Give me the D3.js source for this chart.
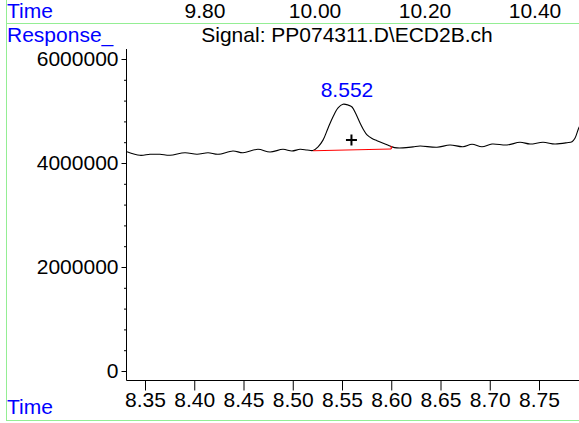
<!DOCTYPE html>
<html>
<head>
<meta charset="utf-8">
<script src="https://cdn.jsdelivr.net/npm/d3@7"></script>
<style>
  body { margin: 0; background: #fff; }
  svg { display: block; font-family: "Liberation Sans", Arial, sans-serif; }
</style>
</head>
<body>
<div id="chart"></div>
<script>
// signal trace
const times = [8.3317, 8.3449, 8.3551, 8.3652, 8.3754, 8.3906, 8.4028, 8.4140, 8.4241, 8.4393,
    8.4495, 8.4647, 8.4769, 8.4901, 8.4992, 8.5074, 8.5145, 8.5206, 8.5257, 8.5307,
    8.5358, 8.5409, 8.5460, 8.5510, 8.5561, 8.5602, 8.5642, 8.5683, 8.5723, 8.5754,
    8.5805, 8.5855, 8.5906, 8.5957, 8.6008, 8.6058, 8.6119, 8.6221, 8.6292, 8.6464,
    8.6596, 8.6728, 8.6820, 8.6921, 8.7023, 8.7175, 8.7307, 8.7409, 8.7541, 8.7662,
    8.7784, 8.7835, 8.7865, 8.7896, 8.7911];
const response = [4.217, 4.148, 4.167, 4.167, 4.148, 4.198, 4.167, 4.198, 4.167, 4.231,
    4.198, 4.263, 4.212, 4.263, 4.231, 4.263, 4.250, 4.240, 4.310, 4.440,
    4.670, 4.890, 5.060, 5.130, 5.115, 5.077, 4.940, 4.770, 4.625, 4.540,
    4.470, 4.430, 4.390, 4.350, 4.310, 4.290, 4.290, 4.310, 4.327, 4.302,
    4.346, 4.313, 4.360, 4.313, 4.365, 4.346, 4.398, 4.365, 4.398, 4.365,
    4.390, 4.410, 4.475, 4.635, 4.700].map(v => v * 1e6);

const peakLabel = "8.552";
const peakTime = 8.552;
const peakTop = 5.13e6;
const baselineTimes = [8.5206, 8.6000];
const baselineValues = [4.236e6, 4.269e6];
const markTime = 8.5596;
const markValue = 4.442e6;

const xTicks = [8.35, 8.40, 8.45, 8.50, 8.55, 8.60, 8.65, 8.70, 8.75];
const xMinor = d3.range(34, 80).map(d => d / 100);
const yTicks = [0, 2000000, 4000000, 6000000];
const yMinor = d3.range(0, 16).map(d => d * 400000);
const topTicks = [9.80, 10.00, 10.20, 10.40];

const title = "Signal: PP074311.D\\ECD2B.ch";

const width = 579, height = 423;
const fs = 21;
const svg = d3.select("#chart").append("svg")
    .attr("width", width)
    .attr("height", height);

const x = d3.scaleLinear().domain([8.35, 8.75]).range([145, 539]);
const y = d3.scaleLinear().domain([0, 6000000]).range([371, 59]);
const xTop = d3.scaleLinear().domain([9.8, 10.4]).range([205, 535]);

const axisX = 126.5, axisY = 380.5, axisTop = 49;

// green frame lines
const green = "#94ee94";
svg.append("line").attr("x1", 6.5).attr("x2", 6.5).attr("y1", 0).attr("y2", 420)
    .attr("stroke", green);
svg.append("line").attr("x1", 6).attr("x2", width).attr("y1", 23.5).attr("y2", 23.5)
    .attr("stroke", green);
svg.append("line").attr("x1", 6).attr("x2", width).attr("y1", 420.5).attr("y2", 420.5)
    .attr("stroke", green);

// top time labels
svg.append("text").attr("x", 7).attr("y", 18).attr("fill", "#0000ff")
    .attr("font-size", fs).text("Time");
svg.selectAll(".toptick").data(topTicks).enter().append("text")
    .attr("x", d => xTop(d)).attr("y", 18)
    .attr("text-anchor", "middle").attr("font-size", fs)
    .text(d => d.toFixed(2));

svg.append("text").attr("x", 7).attr("y", 42).attr("fill", "#0000ff")
    .attr("font-size", fs).text("Response_");
svg.append("text").attr("x", 347).attr("y", 42).attr("text-anchor", "middle")
    .attr("font-size", fs).text(title);

// y axis
const gy = svg.append("g").attr("transform", `translate(${axisX},0)`);
gy.call(d3.axisLeft(y).tickValues(yMinor).tickSize(2.5).tickFormat(""));
gy.call(g => g.append("g").call(d3.axisLeft(y).tickValues(yTicks).tickSize(5)
    .tickPadding(3).tickFormat(d3.format("d"))));
gy.selectAll(".domain").remove();
gy.selectAll("text").attr("font-size", fs).attr("fill", "#000")
    .attr("font-family", "Liberation Sans, Arial, sans-serif");
gy.selectAll("line").attr("stroke", "#000");

// x axis
const gx = svg.append("g").attr("transform", `translate(0,${axisY})`);
gx.call(d3.axisBottom(x).tickValues(xMinor.filter(d => x(d) > axisX && x(d) < width)).tickSize(5).tickFormat(""));
gx.call(g => g.append("g").call(d3.axisBottom(x).tickValues(xTicks).tickSize(10)
    .tickPadding(2).tickFormat(d3.format(".2f"))));
gx.selectAll(".domain").remove();
gx.selectAll("text").attr("font-size", fs).attr("fill", "#000")
    .attr("font-family", "Liberation Sans, Arial, sans-serif");
gx.selectAll("line").attr("stroke", "#000");

svg.append("path")
    .attr("d", `M${axisX},${axisTop}V${axisY}H${width}`)
    .attr("fill", "none").attr("stroke", "#000").attr("stroke-width", 1);

svg.append("text").attr("x", 7).attr("y", 414).attr("fill", "#0000ff")
    .attr("font-size", fs).text("Time");

// signal
const line = d3.line()
    .x((d, i) => x(times[i]))
    .y(d => y(d))
    .curve(d3.curveCatmullRom);
svg.append("path")
    .datum(response)
    .attr("d", line)
    .attr("fill", "none")
    .attr("stroke", "#000")
    .attr("stroke-width", 1.1);

// integration baseline
svg.append("line")
    .attr("x1", x(baselineTimes[0])).attr("y1", y(baselineValues[0]))
    .attr("x2", x(baselineTimes[1])).attr("y2", y(baselineValues[1]))
    .attr("stroke", "#ff0000").attr("stroke-width", 1.2);
svg.append("line")
    .attr("x1", x(baselineTimes[1])).attr("y1", y(baselineValues[1]))
    .attr("x2", x(baselineTimes[1])).attr("y2", y(baselineValues[1]) - 3)
    .attr("stroke", "#ff0000").attr("stroke-width", 1.2);

// peak marker and label
const mx = x(markTime), my = y(markValue);
svg.append("path")
    .attr("d", `M${mx - 5.5},${my}H${mx + 5.5}M${mx},${my - 5.5}V${my + 5.5}`)
    .attr("stroke", "#000").attr("stroke-width", 2);

svg.append("text")
    .attr("x", x(peakTime) + 3).attr("y", y(peakTop) - 7)
    .attr("text-anchor", "middle").attr("fill", "#0000ff")
    .attr("font-size", fs).text(peakLabel);
</script>
</body>
</html>
